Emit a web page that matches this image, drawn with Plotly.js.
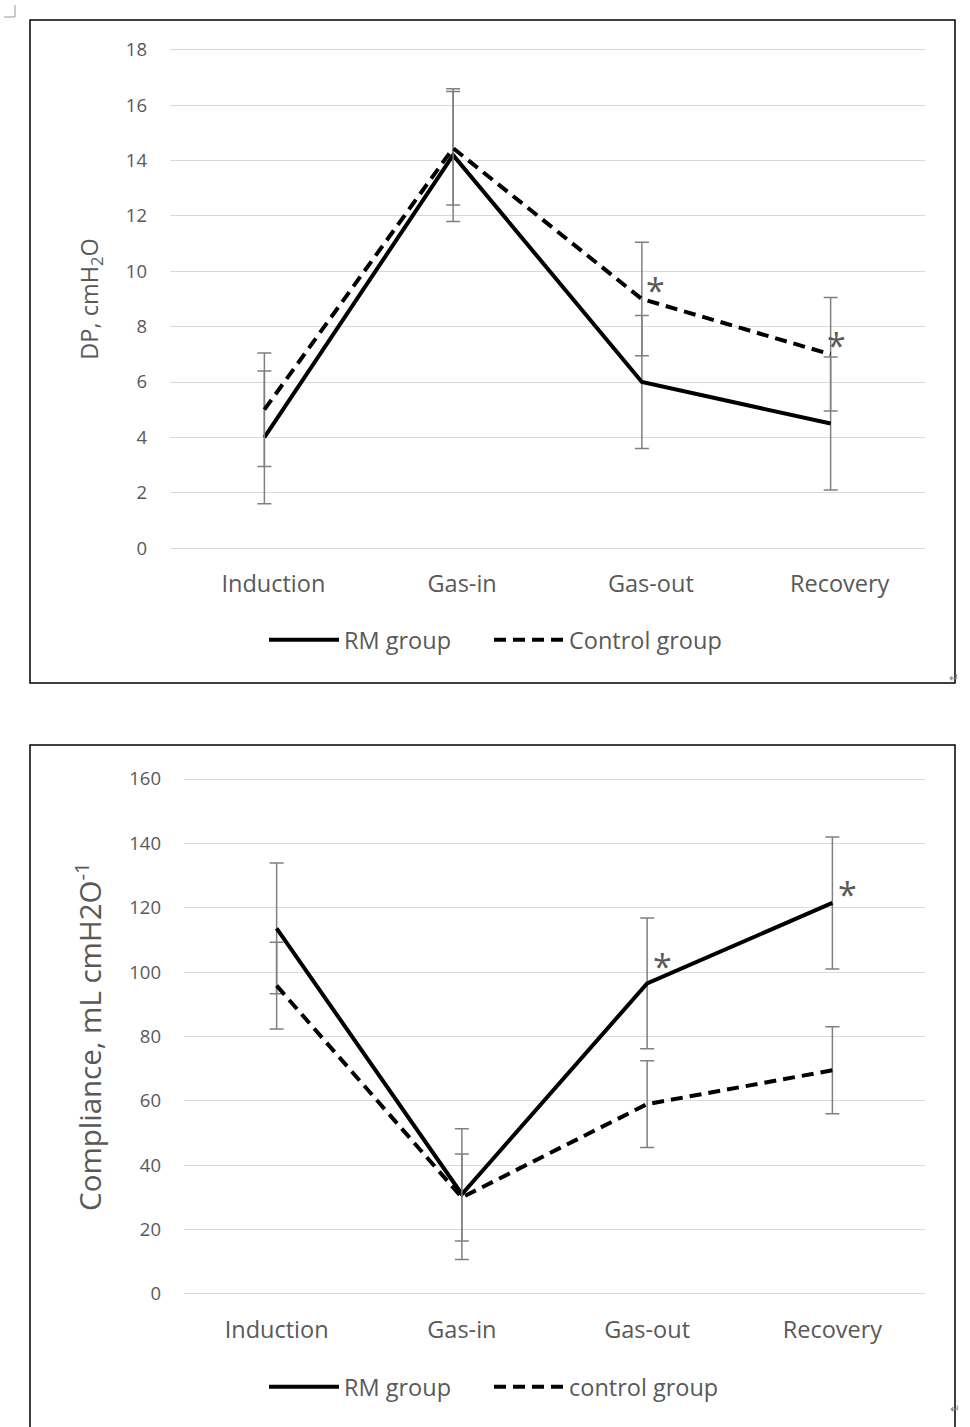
<!DOCTYPE html>
<html>
<head>
<meta charset="utf-8">
<script src="https://cdn.plot.ly/plotly-3.0.1.min.js"></script>
<style>
html,body{margin:0;padding:0;background:#fff;}
#chart{width:970px;height:1427px;}
</style>
</head>
<body>
<div id="chart"></div>
<script>
// ---- data ----
const categories = ["Induction", "Gas-in", "Gas-out", "Recovery"];

// Top chart: driving pressure (DP)
const dpRM = [4, 14.2, 6, 4.5];
const dpRMErr = [2.4, 2.4, 2.4, 2.4];
const dpControl = [5, 14.45, 9, 7];
const dpControlErr = [2.05, 2.05, 2.05, 2.05];
const dpSignificant = [false, false, true, true]; // asterisk on control line

// Bottom chart: compliance
const cRM = [113.6, 31, 96.5, 121.5];
const cRMErr = [20.3, 20.3, 20.3, 20.5];
const cControl = [95.8, 30, 59, 69.5];
const cControlErr = [13.5, 13.5, 13.5, 13.5];
const cSignificant = [false, false, true, true]; // asterisk on RM line

const topLegendNames = ["RM group", "Control group"];
const bottomLegendNames = ["RM group", "control group"];

// ---- style ----
const FONT = "Open Sans, Noto Sans, sans-serif";
const TXT = "#595959";
const GRID = "#d9d9d9";
const ERR = "#808080";
const W = 970, H = 1427;
const px = v => v / W;
const py = v => 1 - v / H;

function errStyle(arr) {
  return {type: "data", array: arr, visible: true, color: ERR, thickness: 1.5, width: 7};
}

const traces = [
  {x: categories, y: dpRM, name: topLegendNames[0], type: "scatter", mode: "lines",
   line: {color: "#000", width: 4}, error_y: errStyle(dpRMErr), xaxis: "x", yaxis: "y", legend: "legend"},
  {x: categories, y: dpControl, name: topLegendNames[1], type: "scatter", mode: "lines",
   line: {color: "#000", width: 4, dash: "12px,7px"}, error_y: errStyle(dpControlErr), xaxis: "x", yaxis: "y", legend: "legend3"},
  {x: categories, y: cRM, name: bottomLegendNames[0], type: "scatter", mode: "lines",
   line: {color: "#000", width: 4}, error_y: errStyle(cRMErr), xaxis: "x2", yaxis: "y2", legend: "legend2"},
  {x: categories, y: cControl, name: bottomLegendNames[1], type: "scatter", mode: "lines",
   line: {color: "#000", width: 4, dash: "12px,7px"}, error_y: errStyle(cControlErr), xaxis: "x2", yaxis: "y2", legend: "legend4"}
];

const annotations = [];
categories.forEach((c, i) => {
  if (dpSignificant[i]) annotations.push({x: c, y: dpControl[i], xref: "x", yref: "y", text: "*",
    showarrow: false, xshift: i === 2 ? 14 : 6, yshift: 9, font: {family: FONT, size: 34, color: TXT}});
  if (cSignificant[i]) annotations.push({x: c, y: cRM[i], xref: "x2", yref: "y2", text: "*",
    showarrow: false, xshift: 15, yshift: i === 2 ? 17 : 9, font: {family: FONT, size: 34, color: TXT}});
});
// Word paragraph marks
annotations.push({x: px(961), y: py(677), xref: "paper", yref: "paper", text: "\u21B5", showarrow: false,
  font: {family: FONT, size: 12, color: "#888"}});
annotations.push({x: px(962), y: py(1419), xref: "paper", yref: "paper", text: "\u21B5", showarrow: false,
  font: {family: FONT, size: 12, color: "#888"}});

const shapes = [
  {type: "rect", xref: "paper", yref: "paper", x0: px(30), x1: px(955), y0: py(683), y1: py(20),
   line: {color: "#000", width: 1.5}},
  {type: "rect", xref: "paper", yref: "paper", x0: px(30), x1: px(955), y0: py(1440), y1: py(745),
   line: {color: "#000", width: 1.5}},
  {type: "line", xref: "paper", yref: "paper", x0: px(15), x1: px(15), y0: py(5), y1: py(17),
   line: {color: "#999", width: 1}},
  {type: "line", xref: "paper", yref: "paper", x0: px(4), x1: px(15), y0: py(17), y1: py(17),
   line: {color: "#999", width: 1}}
];

function xax(domain, shift) {
  return {domain: domain, type: "category", range: [-0.5, 3.5], showgrid: false, zeroline: false,
    showline: false, ticks: "", ticklabelstandoff: 18, ticklabelshift: shift,
    tickfont: {family: FONT, size: 23.5, color: TXT}, fixedrange: true};
}
function yax(domain, range, dtick, title, tsize, standoff, anchor) {
  return {domain: domain, range: range, dtick: dtick, tick0: 0, showgrid: true, gridcolor: GRID, gridwidth: 1,
    zeroline: false, showline: false, ticks: "", ticklabelstandoff: 22,
    tickfont: {family: FONT, size: 18.5, color: TXT}, anchor: anchor,
    title: {text: title, font: {family: FONT, size: tsize, color: TXT}, standoff: standoff}};
}

const legendStyle = {orientation: "h", xanchor: "left", yanchor: "middle",
  font: {family: FONT, size: 23.5, color: TXT}, itemwidth: 70,
  bgcolor: "rgba(0,0,0,0)", borderwidth: 0};

const layout = {
  width: W, height: H,
  margin: {l: 0, r: 0, t: 0, b: 0},
  paper_bgcolor: "#fff", plot_bgcolor: "#fff",
  showlegend: true,
  xaxis: Object.assign(xax([px(170), px(925)], 9), {anchor: "y"}),
  yaxis: yax([py(549.7), py(48.3)], [-0.06, 18.06], 2, "DP, cmH<sub>2</sub>O", 23.5, 20, "x"),
  xaxis2: Object.assign(xax([px(184), px(925)], 0), {anchor: "y2"}),
  yaxis2: yax([py(1295.6), py(777.4)], [-0.5, 160.5], 20, "Compliance, mL cmH2O<sup>-1</sup>", 29.5, 18, "x2"),
  legend: Object.assign({}, legendStyle, {x: px(264), y: py(640)}),
  legend3: Object.assign({}, legendStyle, {x: px(489), y: py(640)}),
  legend2: Object.assign({}, legendStyle, {x: px(264), y: py(1387)}),
  legend4: Object.assign({}, legendStyle, {x: px(489), y: py(1387)}),
  annotations: annotations,
  shapes: shapes
};

Plotly.newPlot("chart", traces, layout, {displayModeBar: false, staticPlot: true});
</script>
</body>
</html>
